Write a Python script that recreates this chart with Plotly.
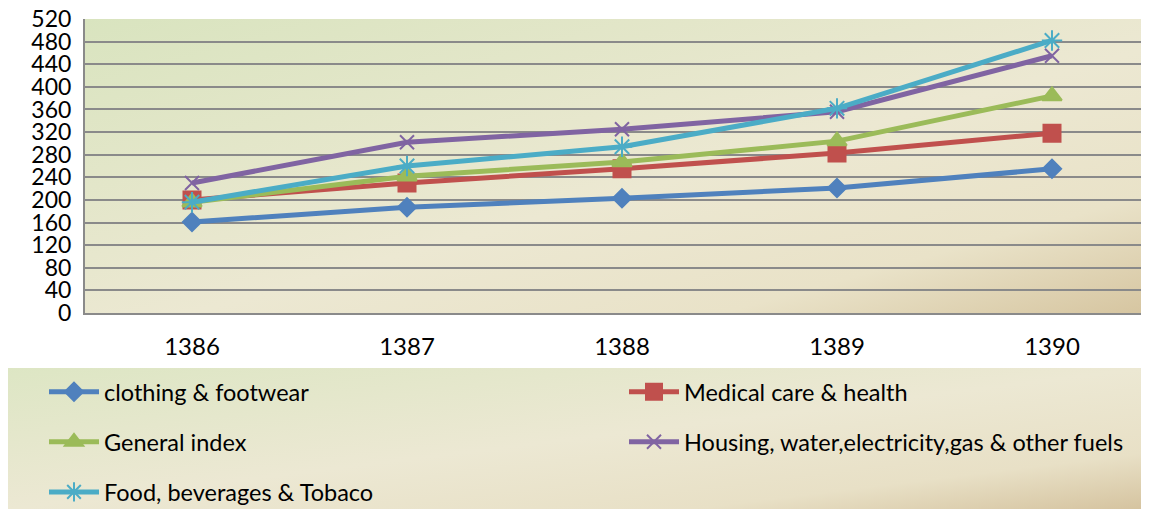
import base64
import plotly.graph_objects as go

years = ["1386", "1387", "1388", "1389", "1390"]
clothing = [161, 187, 203, 221, 255]
medical = [200, 230, 255, 283, 318]
general = [196, 242, 267, 304, 384]
housing = [230, 302, 325, 356, 455]
food = [196, 260, 294, 362, 482]

series_names = [
    "clothing & footwear",
    "Medical care & health",
    "General index",
    "Housing, water,electricity,gas & other fuels",
    "Food, beverages & Tobaco",
]
series_values = [clothing, medical, general, housing, food]
colors = ["#4f81bd", "#c0504d", "#9bbb59", "#8064a2", "#4bacc6"]
symbols = ["diamond", "square", "triangle-up", "x-thin-open", "asterisk-open"]
msizes = [14, 17, 17, 14, 17]
legend_col = ["legend", "legend2", "legend", "legend2", "legend"]

# The page body has an 8px margin, so the figure is 8px smaller than the window.
OFF = 8
W, H = 1149 - OFF, 509 - OFF
ML, MR, MT, MB = 77, 0, 11, 196
PW, PH = W - ML - MR, H - MT - MB

FONT = "Lato"


def px(sx):
    return (sx - OFF - ML) / PW


def py(sy):
    return (MT + PH - (sy - OFF)) / PH


def svg_uri(stops, x1, y1, x2, y2):
    st = "".join(f'<stop offset="{o}" stop-color="{c}"/>' for o, c in stops)
    svg = (
        '<svg xmlns="http://www.w3.org/2000/svg" width="100" height="100" preserveAspectRatio="none" viewBox="0 0 100 100">'
        f'<defs><linearGradient id="g" x1="{x1}" y1="{y1}" x2="{x2}" y2="{y2}">{st}</linearGradient></defs>'
        '<rect width="100" height="100" fill="url(#g)"/></svg>'
    )
    return "data:image/svg+xml;base64," + base64.b64encode(svg.encode()).decode()


plot_bg = svg_uri([(0, "#d9e4bf"), (0.55, "#ece8d2"), (0.8, "#e9e2c8"), (1, "#d6c5a0")], 0, 0, 1, 1)
leg_bg = svg_uri([(0, "#dde6c4"), (0.5, "#ece8d3"), (0.8, "#e8e0c6"), (1, "#d5c39f")], 0, 0, 1, 1)

fig = go.Figure()
for i, (name, vals, c, s, ms, lg) in enumerate(zip(series_names, series_values, colors, symbols, msizes, legend_col)):
    fig.add_trace(go.Scatter(
        x=years, y=vals, name=name, mode="lines+markers",
        line=dict(color=c, width=5),
        marker=dict(symbol=s, size=ms, color=c, line=dict(color=c, width=2)),
        legend=lg, legendgroup=f"g{i}",
    ))

lx0, lx1 = px(7), px(1149)
ly0, ly1 = py(368), py(509)

leg_common = dict(
    orientation="v", xanchor="left", yanchor="top",
    bgcolor="rgba(0,0,0,0)", font=dict(family=FONT, size=23.5, color="black"),
    itemwidth=50, tracegroupgap=16.5,
)

fig.update_layout(
    width=W, height=H,
    margin=dict(l=ML, r=MR, t=MT, b=MB, autoexpand=False),
    paper_bgcolor="white",
    plot_bgcolor="rgba(0,0,0,0)",
    font=dict(family=FONT, size=23, color="black"),
    showlegend=True,
    legend=dict(x=px(44), y=py(370), **leg_common),
    legend2=dict(x=px(624), y=py(370), **leg_common),
    images=[
        dict(source=plot_bg, xref="paper", yref="paper", x=0, y=1, sizex=1, sizey=1,
             sizing="stretch", layer="below", xanchor="left", yanchor="top"),
        dict(source=leg_bg, xref="paper", yref="paper", x=lx0, y=ly0, sizex=lx1 - lx0, sizey=ly0 - ly1,
             sizing="stretch", layer="below", xanchor="left", yanchor="top"),
    ],
    xaxis=dict(
        type="category", range=[-107 / 215, -107 / 215 + PW / 215],
        showgrid=False, showline=True, linecolor="#8a8a8a", linewidth=2,
        ticks="", ticklabelstandoff=11, tickfont=dict(size=24),
        zeroline=False,
    ),
    yaxis=dict(
        range=[0, 520], dtick=40, tick0=0,
        showgrid=True, gridcolor="#8a8a8a", gridwidth=1.5,
        showline=True, linecolor="#8a8a8a", linewidth=2,
        ticks="", ticklabelstandoff=7, tickfont=dict(size=23),
        ticklabeloverflow="allow",
        zeroline=False,
    ),
)

fig.write_html("out.html")
